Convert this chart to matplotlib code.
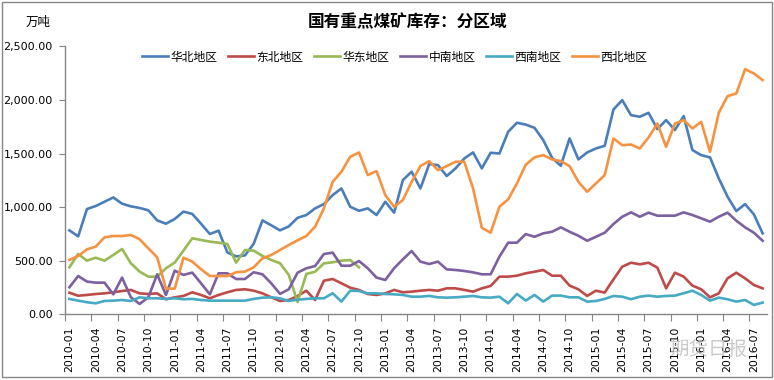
import matplotlib
matplotlib.use('Agg')
import matplotlib.pyplot as plt
from matplotlib.patches import Rectangle
import numpy as np
import pandas as pd

plt.rcParams['font.family'] = ['DejaVu Sans', 'Noto Sans CJK SC']

# monthly categories 2010-01 .. 2016-08
months = [d.strftime('%Y-%m') for d in pd.date_range('2010-01-01', '2016-08-01', freq='MS')]

# 万吨
huabei = [783, 727, 982, 1010, 1050, 1090, 1032, 1007, 992, 970,
          876, 845, 889, 958, 936, 845, 749, 780, 577, 540,
          549, 658, 876, 830, 783, 820, 900, 926, 988, 1028,
          1112, 1174, 1003, 966, 988, 926, 1050, 948, 1252, 1330,
          1174, 1401, 1392, 1290, 1361, 1454, 1510, 1361, 1507, 1500,
          1703, 1787, 1770, 1740, 1625, 1460, 1386, 1641, 1445, 1510,
          1547, 1572, 1911, 1998, 1858, 1843, 1880, 1728, 1812, 1719,
          1849, 1532, 1485, 1464, 1268, 1097, 963, 1028, 932, 755]
dongbei = [201, 173, 180, 189, 195, 205, 217, 227, 195, 189,
           195, 140, 158, 171, 205, 180, 149, 180, 205, 227,
           233, 220, 195, 158, 124, 133, 170, 220, 133, 313,
           329, 289, 248, 227, 189, 180, 195, 227, 205, 211,
           220, 227, 220, 242, 242, 227, 211, 242, 264, 351,
           351, 360, 382, 397, 413, 360, 360, 267, 233, 171,
           220, 202, 326, 444, 481, 466, 481, 435, 242, 388,
           351, 267, 233, 158, 195, 335, 388, 335, 273, 242]
huadong = [438, 563, 500, 528, 500, 553, 609, 476, 398, 351,
           351, 429, 482, 594, 709, 693, 678, 668, 656, 482,
           600, 594, 544, 507, 476, 367, 115, 376, 397, 475,
           485, 500, 506, 438]
zhongnan = [252, 357, 305, 295, 295, 186, 342, 159, 96, 159,
            373, 180, 407, 367, 389, 289, 186, 382, 382, 329,
            329, 392, 373, 289, 190, 233, 388, 429, 450, 562,
            575, 453, 453, 497, 429, 342, 320, 429, 513, 590,
            491, 469, 491, 419, 413, 404, 391, 373, 373, 537,
            668, 668, 748, 723, 755, 770, 811, 770, 733, 686,
            723, 761, 842, 910, 951, 910, 948, 920, 920, 920,
            951, 926, 895, 864, 910, 948, 873, 811, 761, 686]
xinan = [143, 127, 112, 102, 124, 127, 133, 124, 158, 149,
         149, 143, 149, 140, 143, 133, 127, 127, 127, 127,
         127, 143, 155, 158, 149, 124, 136, 143, 149, 149,
         196, 118, 220, 217, 195, 195, 189, 186, 180, 164,
         164, 171, 158, 155, 158, 164, 171, 158, 155, 164,
         102, 189, 128, 180, 118, 174, 174, 158, 158, 118,
         124, 143, 171, 164, 140, 164, 174, 164, 171, 174,
         196, 220, 180, 127, 155, 140, 118, 133, 87, 109]
xibei = [507, 544, 606, 631, 718, 730, 730, 740, 700, 615,
         531, 239, 239, 528, 491, 420, 357, 357, 357, 392,
         398, 438, 522, 553, 600, 646, 690, 730, 817, 988,
         1236, 1330, 1470, 1510, 1299, 1336, 1112, 1003, 1066, 1236,
         1383, 1429, 1345, 1383, 1423, 1423, 1174, 807, 761, 1003,
         1072, 1221, 1395, 1464, 1485, 1445, 1429, 1383, 1236, 1143,
         1221, 1299, 1640, 1578, 1584, 1547, 1650, 1780, 1563, 1780,
         1812, 1734, 1796, 1516, 1880, 2036, 2060, 2287, 2247, 2185]

names = ['华北地区', '东北地区', '华东地区', '中南地区', '西南地区', '西北地区']
series = [huabei, dongbei, huadong, zhongnan, xinan, xibei]
colors = ['#4A7EBB', '#BE4B48', '#98B954', '#7D60A0', '#46AAC5', '#F69240']

fig = plt.figure(figsize=(7.74, 3.8), dpi=100)
ax = fig.add_axes([0.084, 0.173, 0.907, 0.705])

for name, vals, c in zip(names, series, colors):
    ax.plot(np.arange(len(vals)), vals, color=c, lw=1.9, label=name,
            solid_joinstyle='round')

ax.set_xlim(-0.5, len(months) - 0.5)
ax.set_ylim(0, 2500)

# y axis
ax.set_yticks(np.arange(0, 2501, 500))
ax.set_yticklabels([f'{v:,.2f}' for v in np.arange(0, 2501, 500)], fontsize=8)
ax.tick_params(axis='y', direction='out', length=4, color='#868686', pad=5)

# x axis: ticks between categories, labels at category centres
ax.set_xticks(np.arange(-0.5, len(months), 3))
ax.set_xticklabels([])
ax.tick_params(axis='x', which='major', direction='out', length=5, color='#868686')
lab_pos = np.arange(0, len(months), 3)
ax.set_xticks(lab_pos, minor=True)
ax.set_xticklabels([months[i] for i in lab_pos], minor=True, rotation=90, fontsize=7.8)
ax.tick_params(axis='x', which='minor', length=0, pad=9)

for s in ['top', 'right']:
    ax.spines[s].set_visible(False)
for s in ['left', 'bottom']:
    ax.spines[s].set_color('#868686')
    ax.spines[s].set_linewidth(1)

fig.text(0.527, 0.942, '国有重点煤矿库存：分区域', ha='center', va='center',
         fontsize=12, fontweight='bold', family=['Noto Sans CJK SC'])
fig.text(0.049, 0.942, '万吨', ha='center', va='center', fontsize=9,
         family=['Noto Sans CJK SC'])

fig.legend(loc='center', bbox_to_anchor=(0.51, 0.85), ncol=6, frameon=False,
           prop={'family': 'Noto Sans CJK SC', 'size': 8.5},
           handlelength=2.2, handletextpad=0.2, columnspacing=0.9)

# watermark
fig.text(0.915, 0.08, '期货日报', ha='center', va='center', fontsize=14,
         color='#bdbdbd', alpha=0.8, family=['Noto Sans CJK SC'])

fig.patches.append(Rectangle((0.002, 0.008), 0.995, 0.988, transform=fig.transFigure,
                             fill=False, edgecolor='#868686', lw=1))

fig.savefig('out.png', dpi=100)
